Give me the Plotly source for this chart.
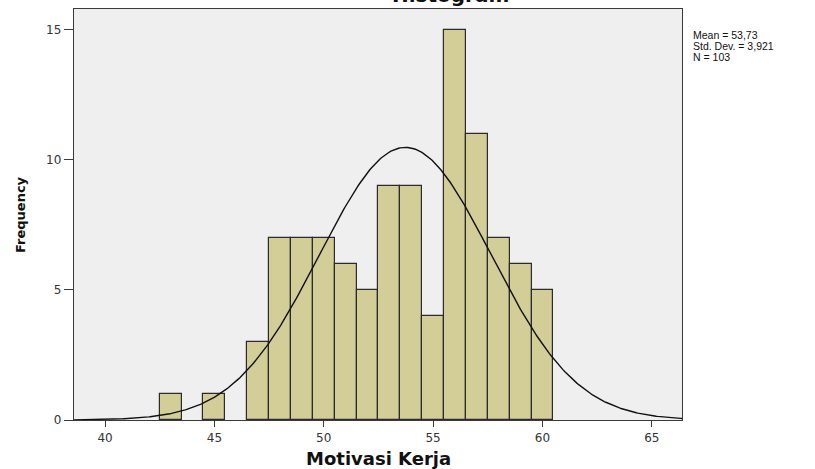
import numpy as np
import plotly.graph_objects as go

# ---- data ----
bin_centers = [43, 45, 47, 48, 49, 50, 51, 52, 53, 54, 55, 56, 57, 58, 59, 60]
frequencies = [1, 1, 3, 7, 7, 7, 6, 5, 9, 9, 4, 15, 11, 7, 6, 5]
x_ticks = [40, 45, 50, 55, 60, 65]
y_ticks = [0, 5, 10, 15]
mean_val = 53.73
sd_val = 3.921
n_val = 103
bin_width = 1.0
stats_lines = ["Mean = 53,73", "Std. Dev. = 3,921", "N = 103"]
title_text = "Histogram"
x_title = "Motivasi Kerja"
y_title = "Frequency"

# ---- layout geometry ----
W, H = 815, 469
L, R, T, B = 74, 815 - 682, 9, 469 - 420
x_range = [38.58, 66.38]
y_range = [0, 15.8]
ph = H - T - B
pw = W - L - R


def px_to_py(p):
    return 1 - (p - T) / ph


def px_to_px(p):
    return (p - L) / pw


# normal curve from the displayed statistics
cx = np.linspace(x_range[0], x_range[1], 400)
cy = n_val * bin_width / (sd_val * np.sqrt(2 * np.pi)) * np.exp(-0.5 * ((cx - mean_val) / sd_val) ** 2)

fig = go.Figure()
fig.add_trace(go.Bar(
    x=bin_centers, y=frequencies, width=bin_width,
    marker=dict(color="#D3CE97", line=dict(color="#2b2b2b", width=1.2)),
    hoverinfo="x+y", showlegend=False,
))
fig.add_trace(go.Scatter(
    x=cx, y=cy, mode="lines",
    line=dict(color="#111111", width=1.4),
    hoverinfo="skip", showlegend=False,
))

tick_font = dict(family="DejaVu Sans", size=12, color="#333333")
fig.update_layout(
    width=W, height=H,
    margin=dict(l=L, r=R, t=T, b=B, pad=0),
    paper_bgcolor="white",
    plot_bgcolor="#EFEFEF",
    bargap=0,
    xaxis=dict(
        range=x_range, tickvals=x_ticks, ticktext=[str(v) for v in x_ticks],
        showgrid=False, zeroline=False,
        showline=True, mirror=True, linecolor="#3a3a3a", linewidth=1.4,
        ticks="outside", ticklen=6, tickwidth=1.4, tickcolor="#3a3a3a",
        tickfont=tick_font,
    ),
    yaxis=dict(
        range=y_range, tickvals=y_ticks, ticktext=[str(v) for v in y_ticks],
        showgrid=False, zeroline=False,
        showline=True, mirror=True, linecolor="#3a3a3a", linewidth=1.4,
        ticks="outside", ticklen=9, tickwidth=1.4, tickcolor="#3a3a3a",
        tickfont=tick_font,
    ),
)

annotations = [
    dict(text=title_text, xref="paper", yref="paper",
         x=px_to_px(450), y=px_to_py(-5), xanchor="center", yanchor="middle",
         showarrow=False, font=dict(family="DejaVu Sans", size=20, color="#111111"),
         ),
    dict(text=x_title, xref="paper", yref="paper",
         x=px_to_px(378), y=px_to_py(458), xanchor="center", yanchor="middle",
         showarrow=False, font=dict(family="DejaVu Sans", size=18, color="#111111")),
    dict(text=y_title, xref="paper", yref="paper", textangle=-90,
         x=px_to_px(20), y=px_to_py(215), xanchor="center", yanchor="middle",
         showarrow=False, font=dict(family="DejaVu Sans", size=13, color="#111111")),
]
for i, line in enumerate(stats_lines):
    annotations.append(dict(
        text=line, xref="paper", yref="paper",
        x=px_to_px(691), y=px_to_py(35.5 + 10.8 * i), xanchor="left", yanchor="middle",
        showarrow=False, font=dict(family="Liberation Sans", size=10.5, color="#111111")))

for a in annotations[:3]:
    a["text"] = "<b>" + a["text"] + "</b>"
fig.update_layout(annotations=annotations)

fig.write_html("out.html")
